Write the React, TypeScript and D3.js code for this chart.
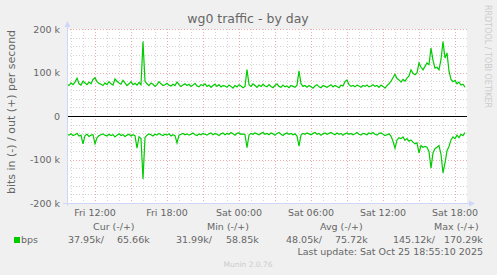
import React from "react";
import * as d3 from "d3";

const W = 497;
const H = 275;
const START = new Date(2025, 9, 24, 9, 40);
const END = new Date(2025, 9, 25, 19, 0);
const STEP_MIN = 10;

// bits per second, in thousands ("out" plotted positive, "in" plotted negative)
const outValues = [
  73, 70, 76, 72, 78, 87, 74, 71, 80, 76,
  72, 78, 74, 84, 88, 79, 75, 73, 70, 76,
  72, 79, 74, 71, 85, 80, 76, 73, 82, 76,
  70, 74, 79, 72, 75, 71, 77, 72, 171, 80,
  74, 70, 76, 73, 68, 72, 79, 74, 70, 72,
  75, 71, 69, 73, 70, 78, 72, 68, 71, 74,
  70, 73, 68, 71, 75, 69, 67, 72, 70, 74,
  68, 71, 66, 70, 73, 68, 72, 67, 70, 69,
  66, 71, 68, 64, 70, 67, 72, 69, 65, 68,
  107, 72, 68, 74, 70, 66, 71, 68, 73, 69,
  67, 72, 68, 65, 70, 74, 68, 66, 71, 67,
  69, 65, 70, 68, 66, 71, 104, 74, 68, 70,
  66, 70, 67, 64, 69, 72, 67, 65, 70, 68,
  66, 69, 72, 67, 70, 68, 65, 71, 69, 79,
  83, 72, 68, 70, 67, 71, 69, 66, 70, 68,
  71, 67, 69, 72, 68, 70, 66, 71, 68, 64,
  70, 74, 80, 88, 96, 86, 83, 78, 84, 80,
  87, 92, 106, 98, 95, 99, 122, 112, 106, 114,
  122, 118, 156, 128, 110, 112, 106, 130, 171, 133,
  145, 103, 84, 79, 82, 74, 78, 71, 73, 66,
];

const inValues = [
  42, 44, 41, 45, 43, 40, 46, 44, 64, 45,
  42, 47, 44, 43, 64, 50, 45, 43, 41, 44,
  46, 42, 45, 43, 48, 44, 41, 45, 43, 47,
  44, 42, 46, 43, 45, 74, 48, 52, 145, 50,
  44, 41, 43, 46, 42, 44, 40, 43, 45, 42,
  44, 41, 46, 43, 45, 62, 44, 42, 40, 43,
  41, 44, 42, 39, 43, 45, 41, 43, 40, 42,
  44, 41, 39, 43, 40, 42, 45, 41, 39, 43,
  40, 42, 38, 41, 44, 40, 39, 42, 41, 43,
  73, 44, 40, 42, 39, 41, 43, 40, 38, 42,
  40, 43, 39, 41, 44, 40, 38, 42, 45, 41,
  39, 42, 40, 43, 41, 46, 69, 44, 40, 42,
  39, 41, 43, 40, 38, 42, 40, 44, 41, 39,
  42, 40, 38, 41, 43, 39, 42, 40, 44, 41,
  39, 42, 40, 43, 41, 38, 42, 44, 40, 41,
  43, 39, 41, 38, 42, 44, 40, 39, 42, 45,
  43, 41, 46, 58, 74, 55, 50, 52, 48, 56,
  52, 58, 55, 60, 64, 62, 85, 68, 72, 70,
  72, 82, 120, 85, 75, 72, 68, 88, 131, 108,
  80, 70, 55, 48, 52, 44, 50, 42, 45, 38,
];

const yTickLabels = ["200 k", "100 k", "0", "-100 k", "-200 k"];
const yTickValues = [200, 100, 0, -100, -200];

const legendHeaders = ["Cur (-/+)", "Min (-/+)", "Avg (-/+)", "Max (-/+)"];
const legendInValues = ["37.95k/", "31.99k/", "48.05k/", "145.12k/"];
const legendOutValues = ["65.66k", "58.85k", "75.72k", "170.29k"];
const seriesName = "bps";
const titleText = "wg0 traffic - by day";
const yLabel = "bits in (-) / out (+) per second";
const lastUpdate = "Last update: Sat Oct 25 18:55:10 2025";
const footer = "Munin 2.0.76";
const sideText = "RRDTOOL / TOBI OETIKER";

const FONT = "DejaVu Sans, sans-serif";
const TEXT = "#666666";
const AXIS = "#CFD6F8";
const LINE = "#00CC00";

export default function App() {
  const left = 67, right = 467, top = 29, bottom = 203;
  const x = d3.scaleTime().domain([START, END]).range([left, right]);
  const y = d3.scaleLinear().domain([-200, 200]).range([bottom, top]);
  const t = (i: number) => new Date(START.getTime() + i * STEP_MIN * 60000);

  const line = d3
    .line<number>()
    .x((_, i) => x(t(i)))
    .y((d) => y(d));

  const outPath = line(outValues) || "";
  const inPath = line(inValues.map((v) => -v)) || "";

  const hours = d3.timeHour.every(1)!.range(START, END).filter((d) => x(d) < right - 0.5);
  const minorY = d3.range(-200, 201, 20);
  const fmt = d3.timeFormat("%a %H:%M");
  const labelHours = hours.filter((d) => d.getHours() % 6 === 0);

  const legendHeaderX = [93, 207, 320, 434];
  const legendInX = [68, 176, 286, 393];
  const legendOutX = [117, 226, 335, 444];

  return (
    <svg width={W} height={H} style={{ position: "absolute", left: 0, top: 0 }} fontFamily={FONT}>
      <rect x={0} y={0} width={W} height={H} fill="#F0F0F0" />
      <rect x={left} y={top} width={right - left} height={bottom - top} fill="#FFFFFF" />

      {/* minor grid */}
      {minorY.filter((v) => v % 100 !== 0).map((v) => (
        <line key={"my" + v} x1={left} x2={right} y1={Math.round(y(v)) + 0.5} y2={Math.round(y(v)) + 0.5}
          stroke="#D4D4D4" strokeDasharray="1,2" />
      ))}
      {hours.filter((d) => d.getHours() % 3 !== 0).map((d) => (
        <line key={"mx" + d.getTime()} x1={Math.round(x(d)) + 0.5} x2={Math.round(x(d)) + 0.5} y1={top} y2={bottom}
          stroke="#D4D4D4" strokeDasharray="1,2" />
      ))}
      {/* major grid */}
      {yTickValues.filter((v) => v !== 0).map((v) => (
        <line key={"My" + v} x1={left} x2={right} y1={Math.round(y(v)) + 0.5} y2={Math.round(y(v)) + 0.5}
          stroke="#F2A8A8" strokeDasharray="1,2" />
      ))}
      {hours.filter((d) => d.getHours() % 3 === 0).map((d) => (
        <line key={"Mx" + d.getTime()} x1={Math.round(x(d)) + 0.5} x2={Math.round(x(d)) + 0.5} y1={top} y2={bottom}
          stroke="#F2A8A8" strokeDasharray="1,2" />
      ))}

      {/* data */}
      <path d={outPath} fill="none" stroke={LINE} strokeWidth={1.2} />
      <path d={inPath} fill="none" stroke={LINE} strokeWidth={1.2} />
      <line x1={left} x2={right} y1={Math.round(y(0)) + 0.5} y2={Math.round(y(0)) + 0.5} stroke="#000" strokeWidth={1} />

      {/* axes */}
      <line x1={left - 4} x2={right + 3} y1={bottom + 0.5} y2={bottom + 0.5} stroke={AXIS} />
      <line x1={left + 0.5} x2={left + 0.5} y1={bottom + 3} y2={top - 4} stroke={AXIS} />
      <path d={`M${right + 8},${bottom + 0.5} L${right + 2},${bottom - 2.5} L${right + 2},${bottom + 3.5} Z`} fill={AXIS} />
      <path d={`M${left + 0.5},${top - 8} L${left - 2.5},${top - 2} L${left + 3.5},${top - 2} Z`} fill={AXIS} />

      {/* y tick labels */}
      {yTickValues.map((v, i) => (
        <text key={"yl" + v} x={60} y={y(v) + 3.5} textAnchor="end" fontSize={9.5} fill={TEXT}>
          {yTickLabels[i]}
        </text>
      ))}
      {/* x tick labels */}
      {labelHours.map((d) => (
        <text key={"xl" + d.getTime()} x={x(d)} y={216} textAnchor="middle" fontSize={9.5} fill={TEXT}>
          {fmt(d)}
        </text>
      ))}

      {/* title */}
      <text x={248} y={23} textAnchor="middle" fontSize={12.5} fill={TEXT}>{titleText}</text>
      {/* y label */}
      <text transform={`translate(15,112) rotate(-90)`} textAnchor="middle" fontSize={11} fill={TEXT}>
        {yLabel}
      </text>
      {/* side text */}
      <text transform="translate(485,5) rotate(90)" fontSize={8} fill="#CCCCCC">{sideText}</text>

      {/* legend */}
      {legendHeaders.map((h, i) => (
        <text key={"lh" + i} x={legendHeaderX[i]} y={230} fontSize={9.5} fill={TEXT}>{h}</text>
      ))}
      <rect x={14} y={237} width={6} height={6} fill={LINE} />
      <text x={21} y={243} fontSize={9.5} fill={TEXT}>{seriesName}</text>
      {legendInValues.map((v, i) => (
        <text key={"li" + i} x={legendInX[i]} y={243} fontSize={9.5} fill={TEXT}>{v}</text>
      ))}
      {legendOutValues.map((v, i) => (
        <text key={"lo" + i} x={legendOutX[i]} y={243} fontSize={9.5} fill={TEXT}>{v}</text>
      ))}
      <text x={483} y={255} textAnchor="end" fontSize={9.5} fill={TEXT}>{lastUpdate}</text>
      <text x={248} y={267} textAnchor="middle" fontSize={7.5} fill="#CCCCCC">{footer}</text>
    </svg>
  );
}
